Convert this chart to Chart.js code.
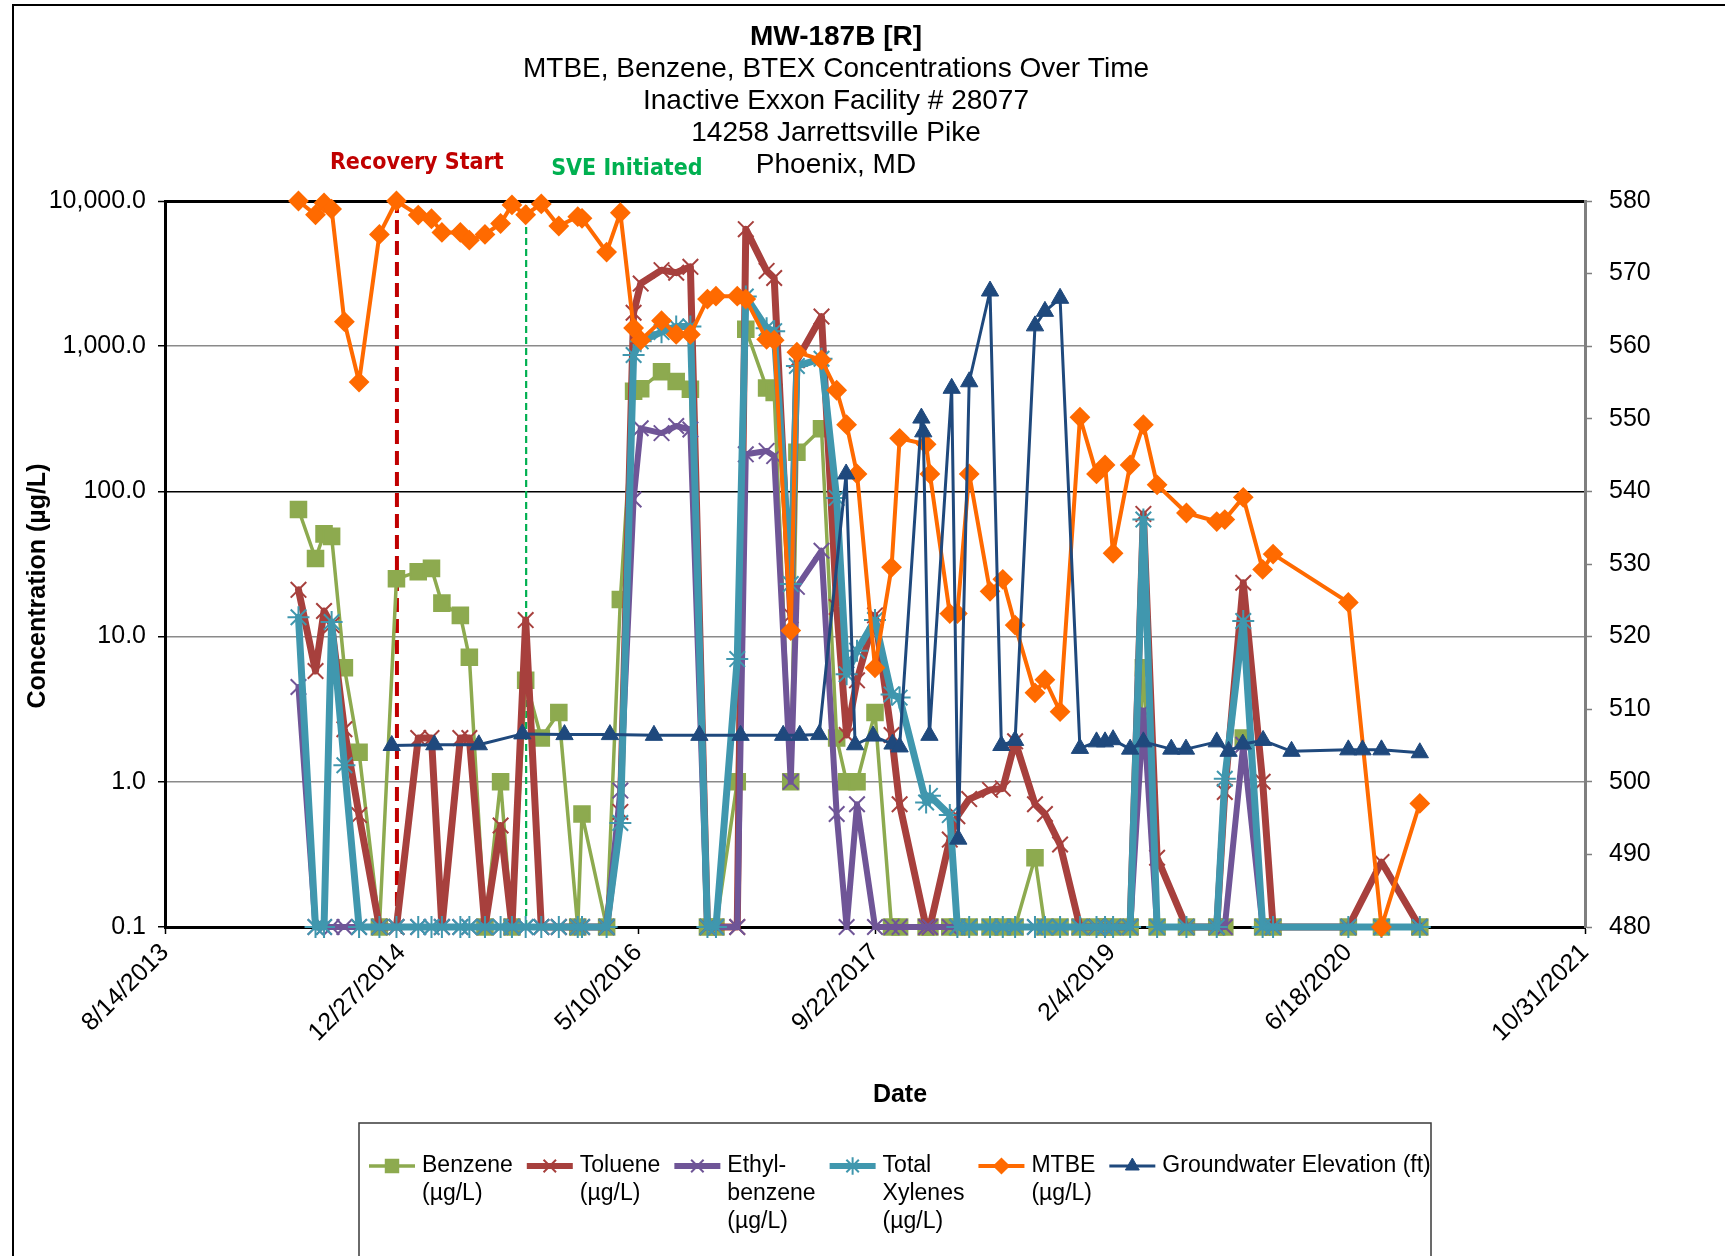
<!DOCTYPE html>
<html>
<head>
<meta charset="utf-8">
<title>MW-187B [R]</title>
<script src="https://cdn.jsdelivr.net/npm/chart.js@4.4.1/dist/chart.umd.min.js"></script>
<style>
  html, body { margin: 0; padding: 0; background: #fff; }
  #wrap { width: 1725px; height: 1256px; position: relative; }
</style>
</head>
<body>
<div id="wrap"><canvas id="chart" width="1725" height="1256"></canvas></div>
<script>
'use strict';

// sample dates as Excel day serials (41500 = 8/14/2013)
var sampleDates = [41782, 41818, 41836, 41852, 41879, 41910, 41953, 41989, 42035, 42063,
  42085, 42124, 42143, 42176, 42209, 42233, 42262, 42295, 42332, 42372,
  42381, 42433, 42462, 42490, 42505, 42549, 42580, 42610, 42646, 42664,
  42709, 42727, 42771, 42787, 42822, 42835, 42887, 42919, 42940, 42962,
  43000, 43035, 43052, 43108, 43116, 43158, 43174, 43199, 43243, 43270,
  43296, 43338, 43359, 43391, 43433, 43468, 43486, 43503, 43539, 43567,
  43596, 43658, 43722, 43739, 43778, 43819, 43841, 44000, 44070, 44151];

// concentrations in ug/L (0.1 = non detect plotted on the axis)
var benzene = [75, 34.5, 51, 49, 6.1, 1.6, 0.1, 25, 28, 29.5,
  17, 14, 7.2, 0.1, 1.0, 0.1, 5.0, 2.0, 3.0, 0.1,
  0.6, 0.1, 18, 490, 510, 667, 571, 505, 0.1, 0.1,
  1.0, 1310, 516, 480, 1.0, 186, 270, 2.0, 1.0, 1.0,
  3.0, 0.1, 0.1, 0.1, 0.1, 0.1, 0.1, 0.1, 0.1, 0.1,
  0.1, 0.3, 0.1, 0.1, 0.1, 0.1, 0.1, 0.1, 0.1, 6.1,
  0.1, 0.1, 0.1, 0.1, 2.0, 0.1, 0.1, 0.1, 0.1, 0.1];

var toluene = [21, 5.8, 15, 12, 2.3, 0.59, 0.1, 0.1, 2.0, 2.0,
  0.1, 2.0, 2.0, 0.1, 0.5, 0.1, 13, 0.1, 0.1, 0.1,
  0.1, 0.1, 0.62, 1700, 2700, 3340, 3210, 3520, 0.1, 0.1,
  0.1, 6400, 3300, 2950, 14, 800, 1600, 16, 2.1, 5,
  14, 2.1, 0.7, 0.1, 0.1, 0.4, 0.58, 0.76, 0.88, 0.9,
  1.9, 0.7, 0.6, 0.37, 0.1, 0.1, 0.1, 0.1, 0.1, 70,
  0.3, 0.1, 0.1, 0.85, 23.5, 1.0, 0.1, 0.1, 0.28, 0.1];

var ethylbenzene = [4.5, 0.1, 0.1, 0.1, 0.1, 0.1, 0.1, 0.1, 0.1, 0.1,
  0.1, 0.1, 0.1, 0.1, 0.1, 0.1, 0.1, 0.1, 0.1, 0.1,
  0.1, 0.1, 0.87, 88, 272, 252, 282, 267, 0.1, 0.1,
  0.1, 180, 190, 175, 1.0, 22, 39, 0.6, 0.1, 0.7,
  0.1, 0.1, 0.1, 0.1, 0.1, 0.1, 0.1, 0.1, 0.1, 0.1,
  0.1, 0.1, 0.1, 0.1, 0.1, 0.1, 0.1, 0.1, 0.1, 3.1,
  0.1, 0.1, 0.1, 0.1, 1.8, 0.1, 0.1, 0.1, 0.1, 0.1];

var xylenes = [13.6, 0.1, 0.1, 12.6, 1.3, 0.1, 0.1, 0.1, 0.1, 0.1,
  0.1, 0.1, 0.1, 0.1, 0.1, 0.1, 0.1, 0.1, 0.1, 0.1,
  0.1, 0.1, 0.52, 870, 1080, 1250, 1365, 1365, 0.1, 0.1,
  7.0, 2200, 1330, 1270, 23, 730, 820, 90, 5.5, 8,
  13, 4.0, 3.8, 0.72, 0.8, 0.59, 0.1, 0.1, 0.1, 0.1,
  0.1, 0.1, 0.1, 0.1, 0.1, 0.1, 0.1, 0.1, 0.1, 64,
  0.1, 0.1, 0.1, 1.05, 12.8, 0.1, 0.1, 0.1, 0.1, 0.1];

var mtbe = [10000, 8040, 9700, 8800, 1475, 566, 5890, 10000, 8000, 7550,
  6080, 6080, 5370, 5890, 7000, 9400, 8040, 9550, 6730, 7800,
  7600, 4450, 8300, 1334, 1100, 1500, 1205, 1205, 2110, 2210,
  2210, 2110, 1115, 1100, 11, 910, 805, 497, 288, 132,
  6.1, 30, 232, 211, 132, 14.4, 14.4, 132, 20.5, 24.8,
  12, 4.1, 5.05, 3.04, 324, 132, 152, 37.5, 152, 288,
  111, 71, 62, 64, 91, 29, 37, 17.2, 0.1, 0.71];

// gauging dates (Excel serials) and groundwater elevation in ft
var gaugeDates = [41979, 42069, 42163, 42255, 42344, 42440, 42533, 42629, 42716, 42806,
  42841, 42882, 42939, 42958, 42996, 43037, 43052, 43098, 43102, 43115,
  43162, 43176, 43199, 43243, 43267, 43296, 43338, 43359, 43391, 43433,
  43468, 43486, 43503, 43539, 43567, 43626, 43657, 43722, 43747, 43777,
  43820, 43880, 44000, 44030, 44070, 44151];
var gwElevation = [505.0, 505.1, 505.1, 506.6, 506.5, 506.5, 506.4, 506.4, 506.4, 506.4,
  506.4, 506.5, 542.4, 505.1, 506.3, 505.2, 504.8, 550.1, 548.2, 506.4,
  554.2, 492.1, 555.1, 567.6, 505.0, 505.7, 562.8, 564.8, 566.6, 504.6,
  505.5, 505.5, 505.8, 504.5, 505.5, 504.5, 504.5, 505.5, 504.2, 505.2,
  505.7, 504.2, 504.4, 504.4, 504.4, 504.0];

// event markers
var recoveryStart = 41990;
var sveInitiated = 42263;

// axis ticks
var dateTicks = [41500, 42000, 42500, 43000, 43500, 44000, 44500];
var concTicks = [0.1, 1, 10, 100, 1000, 10000];

var titleLines = ['MW-187B [R]', 'MTBE, Benzene, BTEX Concentrations Over Time',
  'Inactive Exxon Facility # 28077', '14258 Jarrettsville Pike', 'Phoenix, MD'];

var legendText = [['Benzene', '(µg/L)'], ['Toluene', '(µg/L)'], ['Ethyl-', 'benzene', '(µg/L)'],
  ['Total', 'Xylenes', '(µg/L)'], ['MTBE', '(µg/L)'], ['Groundwater Elevation (ft)']];

var FONT = '"Liberation Sans", Arial, Helvetica, sans-serif';
var NARROW = '"Liberation Sans Narrow", "DejaVu Sans Condensed", "Liberation Sans", sans-serif';

Chart.defaults.font.family = FONT;
Chart.defaults.color = '#000';

// excel serial -> m/d/yyyy
function serialToLabel(serial) {
  var d = new Date((serial - 25569) * 86400000);
  return (d.getUTCMonth() + 1) + '/' + d.getUTCDate() + '/' + d.getUTCFullYear();
}

function toPoints(xs, ys) {
  var pts = [];
  for (var i = 0; i < xs.length; i++) {
    pts.push({x: xs[i], y: ys[i]});
  }
  return pts;
}

function series(label, values, color, width, style, radius, order) {
  return {
    label: label,
    data: toPoints(sampleDates, values),
    yAxisID: 'y',
    borderColor: color,
    backgroundColor: color,
    pointBorderColor: color,
    pointBackgroundColor: color,
    borderWidth: width,
    borderJoinStyle: 'round',
    borderCapStyle: 'round',
    pointStyle: style,
    pointRadius: radius,
    pointBorderWidth: 2,
    order: order,
    clip: false
  };
}

function eventLine(label, x, color, width, dash) {
  return {
    label: label,
    data: [{x: x, y: 0.1}, {x: x, y: 10000}],
    yAxisID: 'y',
    borderColor: color,
    borderWidth: width,
    borderDash: dash,
    pointRadius: 0,
    order: 10,
    clip: false
  };
}

// legend drawn by hand so the labels can wrap like the original
function drawLegend(chart) {
  var ctx = chart.ctx;
  ctx.save();
  ctx.strokeStyle = '#3a3a3a';
  ctx.lineWidth = 1.5;
  ctx.strokeRect(359, 1123, 1072, 200);
  ctx.font = '23px ' + FONT;
  ctx.textAlign = 'left';
  ctx.textBaseline = 'middle';
  var x = 369;
  var y = 1166;
  for (var i = 0; i < legendText.length; i++) {
    var ds = chart.data.datasets[i];
    ctx.strokeStyle = ds.borderColor;
    ctx.lineWidth = Math.min(ds.borderWidth, 6);
    ctx.beginPath();
    ctx.moveTo(x, y);
    ctx.lineTo(x + 46, y);
    ctx.stroke();
    ctx.fillStyle = ds.pointBackgroundColor;
    ctx.strokeStyle = ds.pointBorderColor;
    ctx.lineWidth = ds.pointBorderWidth;
    if (Chart.helpers && Chart.helpers.drawPoint) {
      Chart.helpers.drawPoint(ctx, {pointStyle: ds.pointStyle, radius: ds.pointRadius * 0.8,
        borderWidth: ds.pointBorderWidth, rotation: 0}, x + 23, y);
    }
    ctx.fillStyle = '#000';
    var w = 0;
    for (var k = 0; k < legendText[i].length; k++) {
      ctx.fillText(legendText[i][k], x + 53, y + k * 28);
      w = Math.max(w, ctx.measureText(legendText[i][k]).width);
    }
    x += 53 + w + 14;
  }
  ctx.restore();
}

var overlay = {
  id: 'overlay',
  afterDraw: function (chart) {
    var ctx = chart.ctx;
    var xs = chart.scales.x;
    ctx.save();
    // outer frame, only left and top edges are in view
    ctx.strokeStyle = '#000';
    ctx.lineWidth = 2;
    ctx.beginPath();
    ctx.moveTo(13, 1256);
    ctx.lineTo(13, 5);
    ctx.lineTo(1725, 5);
    ctx.stroke();

    // title block
    ctx.fillStyle = '#000';
    ctx.textAlign = 'center';
    ctx.textBaseline = 'middle';
    for (var i = 0; i < titleLines.length; i++) {
      ctx.font = (i === 0 ? 'bold ' : '') + '28px ' + FONT;
      ctx.fillText(titleLines[i], 836, 37 + i * 32);
    }

    // event labels
    ctx.textAlign = 'left';
    ctx.font = 'bold 23px ' + NARROW;
    ctx.fillStyle = '#C00000';
    ctx.fillText('Recovery Start', xs.getPixelForValue(recoveryStart) - 67, 163);
    ctx.fillStyle = '#00B050';
    ctx.fillText('SVE Initiated', xs.getPixelForValue(sveInitiated) + 25, 169);

    // axis titles
    ctx.fillStyle = '#000';
    ctx.textAlign = 'center';
    ctx.font = 'bold 25px ' + FONT;
    ctx.fillText('Date', 900, 1095);
    ctx.translate(38, 586);
    ctx.rotate(-Math.PI / 2);
    ctx.fillText('Concentration (µg/L)', 0, 0);
    ctx.restore();

    drawLegend(chart);
  }
};

var ctx = document.getElementById('chart').getContext('2d');
var chart = new Chart(ctx, {
  type: 'line',
  data: {
    datasets: [
      series('Benzene (µg/L)', benzene, '#8DAA4F', 3.5, 'rect', 11, 6),
      series('Toluene (µg/L)', toluene, '#A7403D', 7, 'crossRot', 11, 5),
      series('Ethyl-benzene (µg/L)', ethylbenzene, '#6F5597', 6, 'crossRot', 11, 4),
      series('Total Xylenes (µg/L)', xylenes, '#4097AE', 7, 'star', 11, 3),
      series('MTBE (µg/L)', mtbe, '#FF6A00', 4, 'rectRot', 9, 2),
      {
        label: 'Groundwater Elevation (ft)',
        data: toPoints(gaugeDates, gwElevation),
        yAxisID: 'y2',
        borderColor: '#1F497D',
        backgroundColor: '#1F497D',
        pointBorderColor: '#1F497D',
        pointBackgroundColor: '#1F497D',
        borderWidth: 3,
        borderJoinStyle: 'round',
        pointStyle: 'triangle',
        pointRadius: 10,
        pointBorderWidth: 1,
        order: 1,
        clip: false
      },
      eventLine('Recovery Start', recoveryStart, '#C00000', 4, [14, 7]),
      eventLine('SVE Initiated', sveInitiated, '#00B050', 2.2, [7, 4])
    ]
  },
  options: {
    responsive: false,
    animation: false,
    layout: {padding: {left: 0, right: 0, top: 201, bottom: 146}},
    plugins: {
      legend: {display: false},
      title: {display: false},
      tooltip: {enabled: false}
    },
    scales: {
      x: {
        type: 'linear',
        min: dateTicks[0],
        max: dateTicks[dateTicks.length - 1],
        afterFit: function (scale) { scale.height = 183; },
        afterBuildTicks: function (scale) {
          scale.ticks = dateTicks.map(function (v) { return {value: v}; });
        },
        ticks: {
          autoSkip: false,
          minRotation: 45,
          maxRotation: 45,
          padding: 4,
          font: {size: 25},
          callback: function (value) { return serialToLabel(value); }
        },
        grid: {drawOnChartArea: false, tickLength: 7, tickColor: '#000', tickWidth: 1.5},
        border: {color: '#000', width: 3}
      },
      y: {
        type: 'logarithmic',
        position: 'left',
        min: 0.1,
        max: 10000,
        afterFit: function (scale) { scale.width = 165; },
        afterBuildTicks: function (scale) {
          scale.ticks = concTicks.map(function (v) { return {value: v}; });
        },
        ticks: {
          padding: 12,
          font: {size: 25},
          callback: function (value) {
            return Number(value).toLocaleString('en-US', {minimumFractionDigits: 1, maximumFractionDigits: 1});
          }
        },
        grid: {
          color: function (c) { return (c.tick && (c.tick.value === 10000 || c.tick.value === 100)) ? '#000' : '#8a8a8a'; },
          lineWidth: function (c) { return (c.tick && c.tick.value === 10000) ? 3 : 1.5; },
          tickLength: 7,
          tickColor: '#000',
          tickWidth: 1.5
        },
        border: {color: '#000', width: 3}
      },
      y2: {
        type: 'linear',
        position: 'right',
        min: 480,
        max: 580,
        afterFit: function (scale) { scale.width = 140; },
        ticks: {stepSize: 10, padding: 17, font: {size: 25}},
        grid: {drawOnChartArea: false, tickLength: 7, tickColor: '#7f7f7f', tickWidth: 1.5},
        border: {color: '#7f7f7f', width: 3}
      }
    }
  },
  plugins: [overlay]
});
</script>
</body>
</html>
